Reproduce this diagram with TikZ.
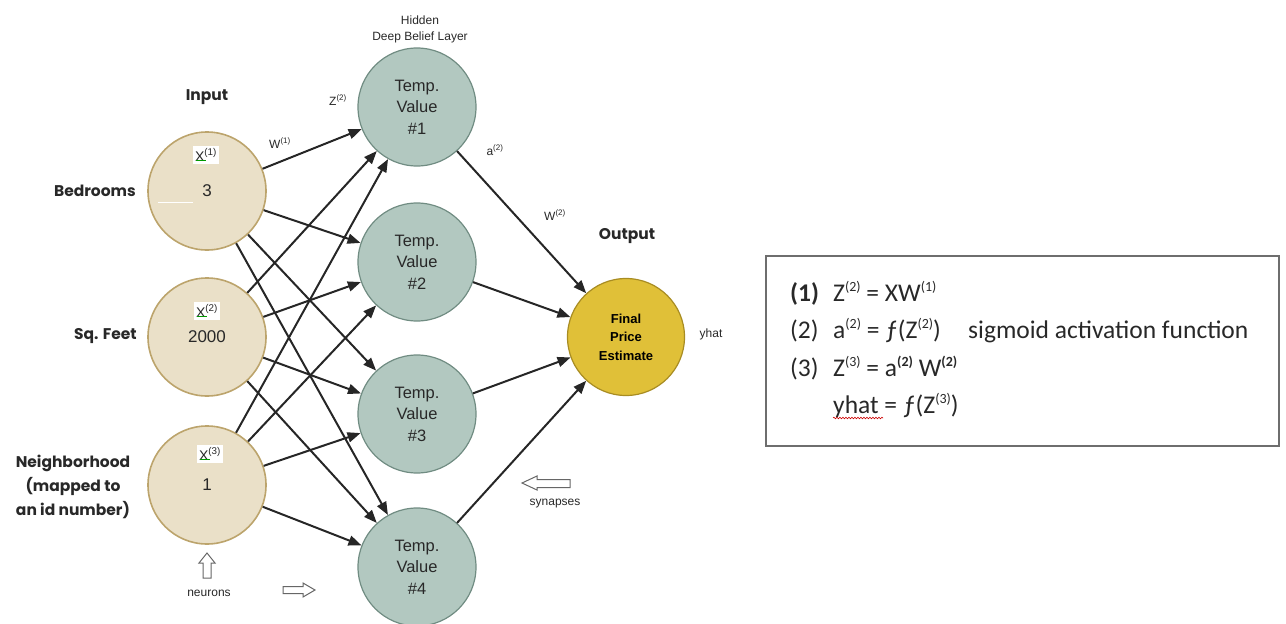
\documentclass[tikz,border=0pt]{standalone}
\usepackage{fontspec}
\setmainfont{Liberation Sans}
\newfontfamily\arialfont{Liberation Sans}
\newfontfamily\futfont{Poppins}
\newfontfamily\calfont{Carlito}
\usetikzlibrary{arrows.meta,calc,decorations.pathmorphing}
\definecolor{inpF}{RGB}{234,224,200}
\definecolor{inpB}{RGB}{188,164,108}
\definecolor{hidF}{RGB}{178,200,192}
\definecolor{hidB}{RGB}{112,140,130}
\definecolor{outF}{RGB}{224,192,56}
\definecolor{outB}{RGB}{168,140,34}
\definecolor{txt}{RGB}{40,40,40}
\definecolor{boxB}{RGB}{110,110,110}
\newcommand{\esup}[1]{\raisebox{0.38em}{\fontsize{14}{14}\selectfont #1}}
\tikzset{
  inp/.style={circle, draw=inpB, fill=inpF, line width=1.6pt, minimum size=118pt, inner sep=0pt, text=txt, font=\arialfont\fontsize{17}{18}\selectfont},
  hid/.style={circle, draw=hidB, fill=hidF, line width=1.2pt, minimum size=118pt, inner sep=0pt, align=center, text=txt, font=\arialfont\fontsize{16.5}{21.5}\selectfont},
  outn/.style={circle, draw=outB, fill=outF, line width=1.2pt, minimum size=117pt, inner sep=0pt, align=center, text=black, font=\arialfont\bfseries\fontsize{13}{18.5}\selectfont},
  syn/.style={-{Triangle[length=13pt,width=10pt]}, line width=2pt, draw=black!85},
  lab/.style={font=\futfont\bfseries\fontsize{15.5}{24}\selectfont, align=center, text=txt, inner sep=0pt},
  small/.style={font=\arialfont\fontsize{12}{16}\selectfont, text=txt, align=center, inner sep=0pt},
  xbox/.style={fill=white, inner sep=2.5pt, font=\arialfont\fontsize{14}{15}\selectfont, text=txt},
  hollow/.style={draw=black!60, line width=1pt, fill=white},
  eq/.style={font=\calfont\fontsize{25.5}{28}\selectfont, text=txt, anchor=base west, inner sep=0pt},
}
\begin{document}
\begin{tikzpicture}[x=1pt,y=-1pt]
\useasboundingbox (0,0) rectangle (1286,624);

% input neurons
\node[inp] (b) at (207,191) {3};
\node[inp] (s) at (207,337) {2000};
\node[inp] (n) at (207,485) {1};
\draw[white, line width=1pt] (158,202) -- (193,202);
\node[xbox] (xb) at (206,155) {X\textsuperscript{(1)}};
\node[xbox] (xs) at (207,311) {X\textsuperscript{(2)}};
\node[xbox] (xn) at (210,454) {X\textsuperscript{(3)}};
\foreach \k in {xb,xs,xn}{
  \draw[green!60!black, line width=0.8pt] ($(\k.south west)+(4,-3)$) -- ++(10,0);
}

% hidden neurons
\node[hid] (h1) at (417,107) {Temp.\\Value\\\#1};
\node[hid] (h2) at (417,262) {Temp.\\Value\\\#2};
\node[hid] (h3) at (417,414) {Temp.\\Value\\\#3};
\node[hid] (h4) at (417,567) {Temp.\\Value\\\#4};

% output neuron
\node[outn] (o) at (626,337) {Final\\Price\\Estimate};

% synapses
\foreach \i in {b,s,n}{
  \foreach \j in {h1,h2,h3,h4}{
    \draw[syn] (\i) -- (\j);
  }
}
\foreach \j in {h1,h2,h3,h4}{
  \draw[syn] (\j) -- (o);
}

% labels
\node[small] (hidl) at (420,29) {Hidden\\Deep Belief Layer};
\node[lab] (inl) at (207,97) {Input};
\node[lab] (outl) at (627,236) {Output};
\node[lab, anchor=east] (bedl) at (136,191) {Bedrooms};
\node[lab, anchor=east] (sql) at (137,336) {Sq. Feet};
\node[lab] (nbl) at (73,487) {Neighborhood\\(mapped to\\an id number)};
\node[small] (z2) at (338,100) {Z\textsuperscript{(2)}};
\node[small] (w1) at (280,143) {W\textsuperscript{(1)}};
\node[small] (a2) at (495,150) {a\textsuperscript{(2)}};
\node[small] (w2) at (555,215) {W\textsuperscript{(2)}};
\node[small] (yh) at (711,334) {yhat};
\node[small] (neur) at (209,593) {neurons};
\node[small] (synl) at (555,504) {synapses};

% hollow arrows
\draw[hollow] (207,553) -- (215,563) -- (211,563) -- (211,578) -- (203,578) -- (203,563) -- (199,563) -- cycle;
\draw[hollow] (315,590) -- (303,583) -- (303,586.5) -- (283,586.5) -- (283,593.5) -- (303,593.5) -- (303,597) -- cycle;
\draw[hollow] (522,483) -- (537,476) -- (537,479.5) -- (570,479.5) -- (570,487.5) -- (537,487.5) -- (537,490) -- cycle;

% equation box
\node[draw=boxB, line width=1.6pt, minimum width=513pt, minimum height=190pt, anchor=north west, inner sep=0pt] (eqbox) at (765,255) {};
\node[eq] (n1) at (790,301) {\textbf{(1)}};
\node[eq] (e1) at (833,301) {Z\esup{(2)} = XW\esup{(1)}};
\node[eq] (n2) at (790,338) {(2)};
\node[eq] (e2) at (833,338) {a\esup{(2)} = ƒ(Z\esup{(2)})};
\node[eq] (sg) at (968,338) {sigmoid activation function};
\node[eq] (n3) at (790,376) {(3)};
\node[eq] (e3) at (833,376) {Z\esup{(3)} = a\esup{\textbf{(2)}} W\esup{\textbf{(2)}}};
\node[eq] (e4) at (833,413) {yhat = ƒ(Z\esup{(3)})};
\draw[red!80!black, line width=0.6pt, decorate, decoration={snake, amplitude=0.8pt, segment length=3pt}] ($(e4.base west)+(0,5)$) -- ++(50,0);
\end{tikzpicture}
\end{document}
